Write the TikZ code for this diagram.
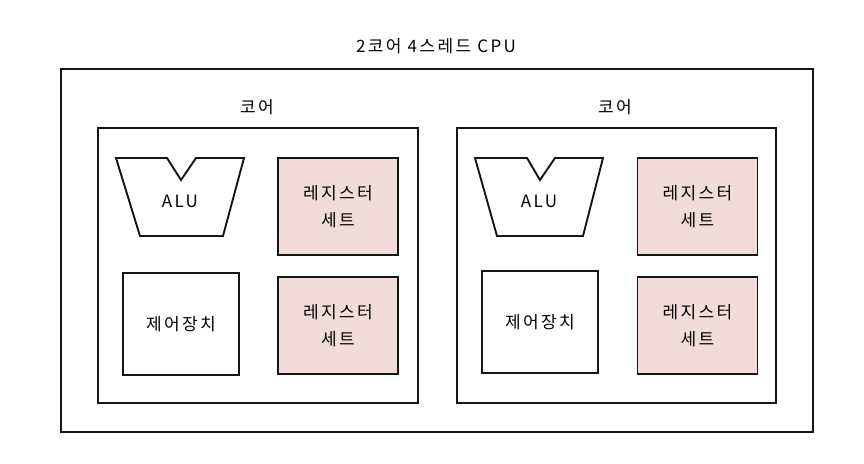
\documentclass[tikz,border=0pt]{standalone}
\usepackage{fontspec}
\setmainfont{Noto Sans CJK KR}[LetterSpace=14]
\definecolor{regpink}{HTML}{F2DCDB}
\definecolor{ink}{HTML}{151515}
\tikzset{
  box/.style={draw=ink, line width=1.9pt, rectangle, inner sep=0pt},
  outerbox/.style={box, line width=1.6pt},
  regbox/.style={box, fill=regpink, minimum width=120pt, minimum height=97pt, align=center, font=\fontsize{17}{27}\selectfont},
  ctrlbox/.style={box, fill=white, minimum width=116pt, minimum height=102pt, font=\fontsize{17}{20}\selectfont},
  lbl/.style={font=\fontsize{17}{20}\selectfont, inner sep=0pt},
  alushape/.style={draw=ink, line width=1.9pt, line join=miter, fill=white}
}
\begin{document}
\begin{tikzpicture}[x=1pt,y=-1pt]
\useasboundingbox (0,0) rectangle (864,463);
\fill[white] (0,0) rectangle (864,463);
% title
\node[lbl] (title) at (436,46) {2코어 4스레드 CPU};
% outer CPU box
\node[outerbox, minimum width=752pt, minimum height=363pt] (cpu) at (437,250.5) {};
% cores
\node[box, minimum width=320pt, minimum height=275pt] (core1) at (258,265.5) {};
\node[box, minimum width=319pt, minimum height=275pt] (core2) at (616.5,265.5) {};
\node[lbl] (core1lbl) at (257,107) {코어};
\node[lbl] (core2lbl) at (615,107) {코어};
% core 1 contents
\draw[alushape] (116,158) -- (167,158) -- (181,180) -- (196,158) -- (244,158) -- (223,236) -- (140,236) -- cycle;
\node[lbl] (alu1) at (180,201) {ALU};
\node[regbox] (reg1a) at (338,206.5) {레지스터\\세트};
\node[regbox] (reg1b) at (338,325.5) {레지스터\\세트};
\node[ctrlbox] (ctrl1) at (181,324) {제어장치};
% core 2 contents
\draw[alushape] (475,158) -- (527,158) -- (540,180) -- (555,158) -- (603,158) -- (583,236) -- (497,236) -- cycle;
\node[lbl] (alu2) at (539,201) {ALU};
\node[regbox] (reg2a) at (697.5,206.5) {레지스터\\세트};
\node[regbox] (reg2b) at (697.5,325.5) {레지스터\\세트};
\node[ctrlbox] (ctrl2) at (540,322) {제어장치};
\end{tikzpicture}
\end{document}
